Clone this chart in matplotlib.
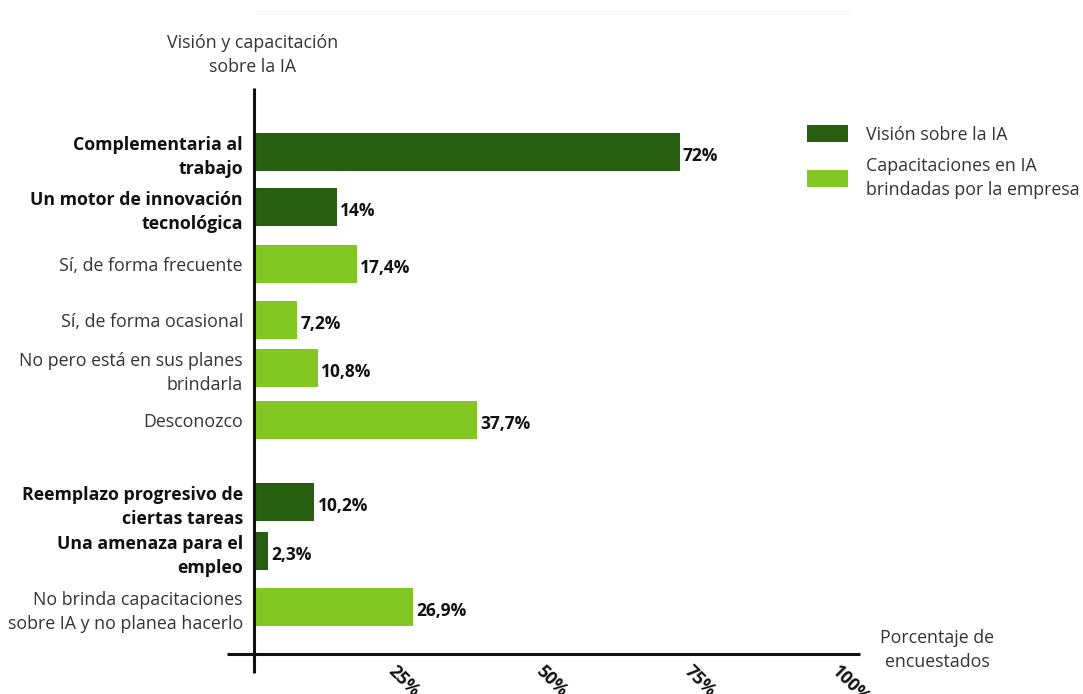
import matplotlib.pyplot as plt
from matplotlib.patches import Patch, Rectangle

plt.rcParams['font.family'] = 'Open Sans'

# answers, top to bottom
labels = [
    'Complementaria al\ntrabajo',
    'Un motor de innovación\ntecnológica',
    'Sí, de forma frecuente',
    'Sí, de forma ocasional',
    'No pero está en sus planes\nbrindarla',
    'Desconozco',
    'Reemplazo progresivo de\nciertas tareas',
    'Una amenaza para el\nempleo',
    'No brinda capacitaciones\nsobre IA y no planea hacerlo',
]
values = [72, 14, 17.4, 7.2, 10.8, 37.7, 10.2, 2.3, 26.9]
value_text = ['72%', '14%', '17,4%', '7,2%', '10,8%', '37,7%', '10,2%', '2,3%', '26,9%']
# 'v' = visión sobre la IA, 'c' = capacitaciones brindadas
group = ['v', 'v', 'c', 'c', 'c', 'c', 'v', 'v', 'c']
ticks = [25, 50, 75, 100]
tick_text = ['25%', '50%', '75%', '100%']

# row centres (same units as the y limits below)
row_y = [152, 207, 264, 320, 368, 420, 502, 551, 607]

dark = '#275e0f'
light = '#82c722'
colors = [dark if g == 'v' else light for g in group]

fig = plt.figure(figsize=(10.83, 6.94), dpi=100)

# faint strip along the top edge
fig.patches.append(Rectangle((255 / 1083, 1 - 15 / 694), 595 / 1083, 5 / 694,
                             transform=fig.transFigure, facecolor='#fafafa', edgecolor='none'))

ax = fig.add_axes([254 / 1083, 1 - 654 / 694, 591 / 1083, 566 / 694])
ax.set_xlim(0, 100)
ax.set_ylim(654, 88)

ax.barh(row_y, values, height=38, color=colors, edgecolor='none')

for y, v, t in zip(row_y, values, value_text):
    ax.annotate(t, (v, y), xytext=(2.5, -3), textcoords='offset points',
                ha='left', va='center', fontsize=12.5, fontweight='bold', color='#111111')

ax.set_yticks(row_y)
ax.set_yticklabels(labels, fontsize=12.8, color='#333333', linespacing=1.42)
for lab, g in zip(ax.get_yticklabels(), group):
    lab.set_horizontalalignment('right')
    if g == 'v':
        lab.set_fontweight('bold')
        lab.set_color('#111111')
ax.tick_params(axis='y', length=0, pad=8)
ax.set_xticks([])

for s in ax.spines.values():
    s.set_visible(False)

# axis lines drawn by hand so they cross past the origin
ax.plot([0, 0], [88, 673], color='#111111', lw=2.2, clip_on=False, solid_capstyle='butt')
ax.plot([-4.6, 102.5], [654, 654], color='#111111', lw=2.2, clip_on=False, solid_capstyle='butt')

for t, s in zip(ticks, tick_text):
    ax.annotate(s, (t, 654), xytext=(-3, -6), textcoords='offset points',
                ha='left', va='top', rotation=-45, rotation_mode='anchor',
                fontsize=12.8, fontweight='bold', color='#111111')

fig.text(253 / 1083, 1 - 55 / 694, 'Visión y capacitación\nsobre la IA', ha='center', va='center',
         fontsize=12.8, color='#333333', linespacing=1.42)
fig.text(937 / 1083, 1 - 650 / 694, 'Porcentaje de\nencuestados', ha='center', va='center',
         fontsize=12.8, color='#333333', linespacing=1.42)

handles = [Patch(facecolor=dark), Patch(facecolor=light)]
fig.legend(handles, ['Visión sobre la IA', 'Capacitaciones en IA\nbrindadas por la empresa'],
           loc='upper left', bbox_to_anchor=(800 / 1083, 1 - 118 / 694), frameon=False,
           handlelength=2.3, handleheight=1.1, handletextpad=1.0,
           labelspacing=0.75, labelcolor='#333333', borderaxespad=0,
           prop={'family': 'Open Sans', 'size': 12.8})
for txt in fig.legends[0].get_texts():
    txt.set_linespacing(1.42)

fig.savefig('out.png', dpi=100)
